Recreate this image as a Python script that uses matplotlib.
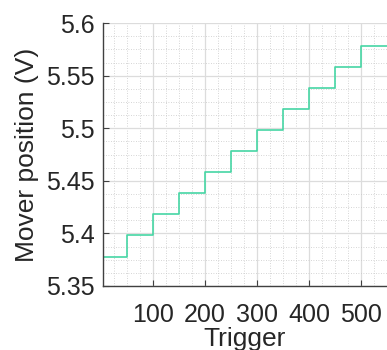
import matplotlib
matplotlib.use("Agg")
import matplotlib.pyplot as plt
import numpy as np
from matplotlib.ticker import MultipleLocator

plt.rcParams['font.family'] = ['Liberation Sans', 'DejaVu Sans']

# step data: trigger breakpoints and mover positions
step_starts = [1, 50, 100, 150, 200, 250, 300, 350, 400, 450, 500]
step_ends = [50, 100, 150, 200, 250, 300, 350, 400, 450, 500, 550]
levels = [5.378, 5.398, 5.418, 5.438, 5.458, 5.478, 5.498, 5.518, 5.538, 5.558, 5.578]

xticks = [100, 200, 300, 400, 500]
yticks = [5.35, 5.4, 5.45, 5.5, 5.55, 5.6]
yticklabels = ['5.35', '5.4', '5.45', '5.5', '5.55', '5.6']

fig = plt.figure(figsize=(3.87, 3.5), dpi=100)
ax = fig.add_axes([0.266, 0.183, 0.734, 0.751])

xs, ys = [], []
for s, e, v in zip(step_starts, step_ends, levels):
    xs += [s, e]
    ys += [v, v]
ax.plot(xs, ys, color='#46d6a4', lw=1.2)

ax.set_xlim(4, 550)
ax.set_ylim(5.35, 5.6)
ax.set_xticks(xticks)
ax.set_yticks(yticks)
ax.set_yticklabels(yticklabels)
ax.xaxis.set_minor_locator(MultipleLocator(25))
ax.yaxis.set_minor_locator(MultipleLocator(0.0125))
ax.grid(True, which='major', color='#dcdcdc', lw=0.9)
ax.grid(True, which='minor', color='#c8c8c8', lw=0.6, linestyle=(0, (1, 2)))
ax.set_axisbelow(True)

for sp in ['top', 'right']:
    ax.spines[sp].set_visible(False)
for sp in ['left', 'bottom']:
    ax.spines[sp].set_color('#404040')
    ax.spines[sp].set_linewidth(1.0)

ax.tick_params(which='major', direction='in', length=4, width=0.8, colors='#404040',
               labelsize=18, labelcolor='#262626')
ax.tick_params(axis='y', which='major', pad=6)
ax.tick_params(axis='x', which='major', pad=12)
ax.tick_params(which='minor', length=0)

ax.set_xlabel('Trigger', fontsize=19, color='#262626', labelpad=0)
ax.set_ylabel('Mover position (V)', fontsize=19, color='#262626', labelpad=5)

fig.savefig('out.png', dpi=100)
